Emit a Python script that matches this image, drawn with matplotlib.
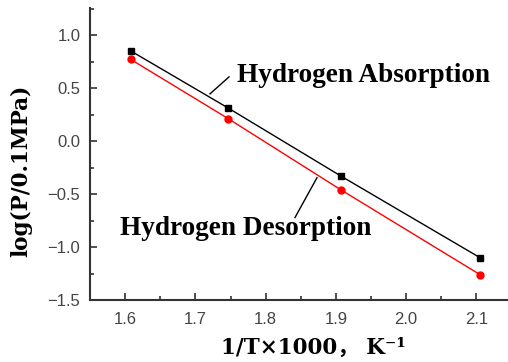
import matplotlib
matplotlib.use("Agg")
import matplotlib.pyplot as plt
from matplotlib.ticker import MultipleLocator

# Data
inv_T = [1.608, 1.747, 1.907, 2.105]
absorption = [0.85, 0.31, -0.33, -1.10]
desorption = [0.77, 0.21, -0.46, -1.26]

x_ticks = [1.6, 1.7, 1.8, 1.9, 2.0, 2.1]
y_ticks = [-1.5, -1.0, -0.5, 0.0, 0.5, 1.0]

fig = plt.figure(figsize=(5.08, 3.62), dpi=100)
ax = fig.add_axes([90/508, 1 - 300/362, 1 - 90/508, (300 - 8)/362])

ax.plot(inv_T, absorption, color="black", lw=1.0, marker="s", ms=4.5, zorder=3)
ax.plot(inv_T, desorption, color="red", lw=1.0, marker="o", ms=5, zorder=3)

ax.set_xlim(1.55, 2.145)
ax.set_ylim(-1.5, 1.255)
ax.set_xticks(x_ticks)
ax.set_yticks(y_ticks)
ax.set_xticklabels([f"{v:.1f}" for v in x_ticks])
ax.set_yticklabels([f"{v:.1f}".replace("-", "\u2212") for v in y_ticks])
ax.xaxis.set_minor_locator(MultipleLocator(0.05))
ax.yaxis.set_minor_locator(MultipleLocator(0.25))

for s in ["top", "right"]:
    ax.spines[s].set_visible(False)
for s in ["left", "bottom"]:
    ax.spines[s].set_color("#333333")
    ax.spines[s].set_linewidth(1.5)

ax.tick_params(which="major", direction="in", length=5, width=1.2, color="#333333",
               labelsize=12, labelcolor="#444444")
ax.tick_params(axis="x", which="major", pad=9)
ax.tick_params(axis="y", which="major", pad=7)
ax.tick_params(which="minor", direction="in", length=3, width=1.2, color="#333333")
for lab in ax.get_xticklabels() + ax.get_yticklabels():
    lab.set_family("Liberation Sans")

ax.set_ylabel("log(P/0.1MPa)", family="DejaVu Serif", fontweight="bold",
              fontsize=15.5)
ax.yaxis.set_label_coords(-0.139, 0.442)
ax.set_xlabel("1/T\u00d71000\uff0c K\u207b\u00b9",
              family=["DejaVu Serif", "Noto Sans CJK SC"],
              fontweight="bold", fontsize=15.5)
ax.xaxis.set_label_coords(0.535, -0.125)

# Annotations
ax.text(1.7593, 0.558, "Hydrogen Absorption", family="Liberation Serif",
        fontweight="bold", fontsize=19.6, ha="left", va="baseline")
ax.text(1.5927, -0.8825, "Hydrogen Desorption", family="Liberation Serif",
        fontweight="bold", fontsize=19.6, ha="left", va="baseline")
# leader lines
ax.plot([1.7208, 1.7479], [0.445, 0.605], color="black", lw=1.0)
ax.plot([1.8731, 1.8418], [-0.346, -0.722], color="black", lw=1.0)

fig.savefig("out.png", dpi=100, facecolor="white")
